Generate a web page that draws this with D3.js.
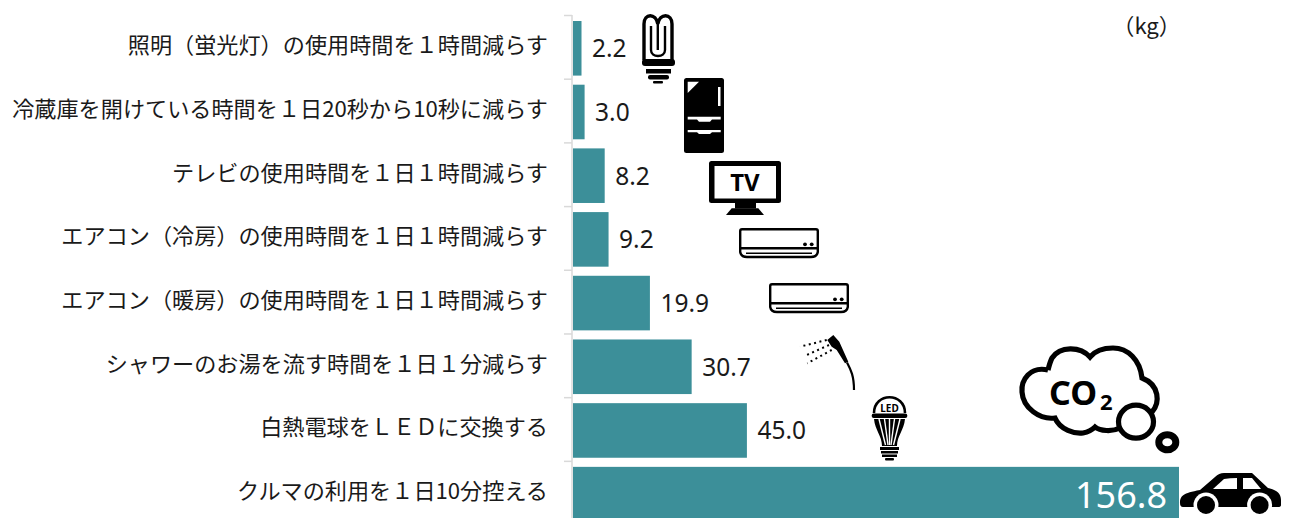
<!DOCTYPE html>
<html>
<head>
<meta charset="utf-8">
<script src="https://cdn.jsdelivr.net/npm/d3@7"></script>
<style>
html, body { margin: 0; padding: 0; background: #fff; overflow: hidden; }
svg { display: block; }
</style>
</head>
<body>
<div id="chart"></div>
<script>
"use strict";

var categories = [
	"照明（蛍光灯）の使用時間を１時間減らす",
	"冷蔵庫を開けている時間を１日20秒から10秒に減らす",
	"テレビの使用時間を１日１時間減らす",
	"エアコン（冷房）の使用時間を１日１時間減らす",
	"エアコン（暖房）の使用時間を１日１時間減らす",
	"シャワーのお湯を流す時間を１日１分減らす",
	"白熱電球をＬＥＤに交換する",
	"クルマの利用を１日10分控える"
];
var values = [2.2, 3.0, 8.2, 9.2, 19.9, 30.7, 45.0, 156.8];
var unit_label = "（kg）";

var bar_color = "#3c8f99",
	axis_color = "#d9d9d9",
	text_color = "#1a1a1a",
	jp_font = "'Noto Sans CJK JP', sans-serif",
	num_font = "'Noto Sans', sans-serif",
	icon_font = "'Noto Sans', sans-serif";

var svg = d3.select("#chart").append("svg")
	.attr("width", 1290)
	.attr("height", 518);

var x = d3.scaleLinear().domain([0, 156.8]).range([573, 1179]);
var y = d3.scaleBand().domain(categories).range([16.45, 526]).paddingInner(0.143).paddingOuter(0.0715);

//axis: line plus ticks in between the bars
svg.append("line")
	.attr("x1", 572).attr("x2", 572)
	.attr("y1", 15).attr("y2", 518)
	.attr("stroke", axis_color).attr("stroke-width", 1.5);

svg.selectAll(".tick_mark").data(categories).enter().append("line")
	.attr("class", "tick_mark")
	.attr("x1", 564).attr("x2", 572)
	.attr("y1", function(d) { return y(d) - 5.5; })
	.attr("y2", function(d) { return y(d) - 5.5; })
	.attr("stroke", axis_color).attr("stroke-width", 1.5);

svg.selectAll(".bar").data(values).enter().append("rect")
	.attr("class", "bar")
	.attr("x", x(0))
	.attr("y", function(d, i) { return y(categories[i]); })
	.attr("width", function(d) { return x(d) - x(0); })
	.attr("height", y.bandwidth())
	.attr("fill", bar_color);

svg.selectAll(".cat_label").data(categories).enter().append("text")
	.attr("class", "cat_label")
	.attr("x", 548)
	.attr("y", function(d) { return y(d) + y.bandwidth() / 2 + 5; })
	.attr("text-anchor", "end")
	.attr("font-family", jp_font)
	.attr("font-size", 22.15)
	.attr("fill", text_color)
	.text(function(d) { return d; });

svg.selectAll(".val_label").data(values).enter().append("text")
	.attr("class", "val_label")
	.attr("x", function(d) { return d > 100 ? x(d) - 12 : x(d) + 10.5; })
	.attr("y", function(d, i) { return y(categories[i]) + y.bandwidth() / 2 + (d > 100 ? 14 : 9); })
	.attr("text-anchor", function(d) { return d > 100 ? "end" : "start"; })
	.attr("font-family", num_font)
	.attr("font-size", function(d) { return d > 100 ? 36 : 24.5; })
	.attr("fill", function(d) { return d > 100 ? "#fff" : text_color; })
	.text(function(d) { return d.toFixed(1); });

svg.append("text")
	.attr("x", 1181).attr("y", 34)
	.attr("text-anchor", "end")
	.attr("font-family", jp_font)
	.attr("font-size", 22.15)
	.attr("fill", text_color)
	.text(unit_label);

//icons, all hand traced
var icons = svg.append("g").attr("class", "icons");

function bulb() {
	var g = icons.append("g");
	g.append("path")
		.attr("d", "M644,60 V24 C644,13 656,13 657.8,24 C659.5,13 672,13 672,24 V60")
		.attr("fill", "none").attr("stroke", "#000").attr("stroke-width", 3.4);
	g.append("path")
		.attr("d", "M651,26 V50 C651,58 665,58 665,50 V26 M657.8,24 V50")
		.attr("fill", "none").attr("stroke", "#000").attr("stroke-width", 2.4);
	g.append("rect").attr("x", 642).attr("y", 59).attr("width", 33).attr("height", 7).attr("rx", 3);
	g.append("rect").attr("x", 646).attr("y", 69).attr("width", 25).attr("height", 4.5);
	g.append("rect").attr("x", 648).attr("y", 75).attr("width", 21).attr("height", 4.5).attr("rx", 2);
	g.append("rect").attr("x", 653).attr("y", 81).attr("width", 10).attr("height", 2.5).attr("rx", 1);
}

function fridge() {
	var g = icons.append("g");
	g.append("rect").attr("x", 684).attr("y", 78).attr("width", 40).attr("height", 75).attr("rx", 2.5);
	g.append("path").attr("fill", "#fff").attr("d", "M687.7,81.7 H699 L687.7,93 Z");
	g.append("rect").attr("fill", "#fff").attr("x", 718).attr("y", 87).attr("width", 2.5).attr("height", 19);
	g.append("path").attr("fill", "#fff").attr("d", "M687.7,116.7 H720.7 V119.5 H712 L710,121.7 H699 L697,119.5 H687.7 Z");
	g.append("path").attr("fill", "#fff").attr("d", "M687.7,130 H720.7 V132.3 H712 L710,134 H699 L697,132.3 H687.7 Z");
}

function tv() {
	var g = icons.append("g");
	g.append("rect").attr("x", 709).attr("y", 161).attr("width", 72).attr("height", 42).attr("rx", 2.5);
	g.append("rect").attr("fill", "#fff").attr("x", 714.5).attr("y", 166).attr("width", 61.5).attr("height", 32.5);
	g.append("text").attr("x", 745).attr("y", 191)
		.attr("text-anchor", "middle")
		.attr("font-family", icon_font)
		.attr("font-weight", "bold").attr("font-size", 24)
		.text("TV");
	g.append("rect").attr("x", 735).attr("y", 203).attr("width", 21).attr("height", 5.5);
	g.append("path").attr("d", "M731.7,208.3 H758.3 L764,215 H726 Z");
}

function aircon(dx, dy) {
	var g = icons.append("g").attr("transform", "translate(" + dx + "," + dy + ")");
	g.append("path")
		.attr("d", "M1.2,20 V3 Q1.2,1.2 3,1.2 H77 Q78.8,1.2 78.8,3 V20 M1.2,20.3 H78.8 V24 Q78,29 72,29 H8 Q2,29 1.2,24 V20")
		.attr("fill", "none").attr("stroke", "#000").attr("stroke-width", 2.4);
	g.append("line").attr("x1", 7).attr("x2", 73).attr("y1", 25.2).attr("y2", 25.2)
		.attr("stroke", "#000").attr("stroke-width", 1.4);
	g.append("circle").attr("cx", 66).attr("cy", 16.3).attr("r", 1.9);
	g.append("circle").attr("cx", 72.7).attr("cy", 16.3).attr("r", 1.9);
}

function shower() {
	var g = icons.append("g");
	g.append("path").attr("d", "M827.3,340 L833.3,335 L839.3,341.7 L848.3,361.7 L845,363.3 L836.7,350 L831.7,346.7 Z");
	g.append("path").attr("d", "M847,362.5 C851,370 854,376 854,390")
		.attr("fill", "none").attr("stroke", "#000").attr("stroke-width", 2.2);
	[[826.7, 340, 800, 346.7], [829, 345, 806.7, 355], [831.7, 350, 807.3, 363.3]].forEach(function(r) {
		g.append("line")
			.attr("x1", r[0]).attr("y1", r[1]).attr("x2", r[2]).attr("y2", r[3])
			.attr("stroke", "#000").attr("stroke-width", 2).attr("stroke-dasharray", "2,3.5");
	});
}

function led() {
	var g = icons.append("g");
	g.append("path").attr("d", "M874,413 C874,392 905,392 905,413")
		.attr("fill", "none").attr("stroke", "#000").attr("stroke-width", 2.6);
	g.append("text").attr("x", 889.5).attr("y", 411.5)
		.attr("text-anchor", "middle")
		.attr("font-family", icon_font)
		.attr("font-weight", "bold").attr("font-size", 10)
		.text("LED");
	g.append("rect").attr("x", 871.7).attr("y", 413.5).attr("width", 35.6).attr("height", 4.5).attr("rx", 2);
	g.append("path").attr("d", "M874,419 H905 C904,430 897,436 897,446 H882 C882,436 875,430 874,419 Z");
	["M879,419 L885.5,445", "M884.5,419 L888,445", "M889.5,419 V445", "M894.5,419 L891,445", "M900,419 L893.5,445"].forEach(function(p) {
		g.append("path").attr("d", p).attr("stroke", "#fff").attr("stroke-width", 1.4).attr("fill", "none");
	});
	g.append("rect").attr("x", 880).attr("y", 447).attr("width", 19).attr("height", 3);
	g.append("rect").attr("x", 881).attr("y", 451).attr("width", 17).attr("height", 2.5);
	g.append("rect").attr("x", 882).attr("y", 454.5).attr("width", 15).attr("height", 2.5);
	g.append("rect").attr("x", 885).attr("y", 458).attr("width", 9).attr("height", 2.5).attr("rx", 1);
}

function cloud() {
	var g = icons.append("g");
	g.append("path")
		.attr("d", "M1048,370 C1030,366 1021,380 1022,392 C1023,408 1040,420 1055,418 C1060,430 1075,434 1083,433 C1088,432 1092,430 1095,427 C1100,431 1112,432 1120,428 M1152,412 C1160,403 1160,385 1142,378 C1140,360 1128,348 1113,348 C1103,348 1095,351 1090,357 C1080,346 1060,346 1052,358 C1050,362 1049,366 1048,370")
		.attr("fill", "none").attr("stroke", "#000").attr("stroke-width", 5.2);
	g.append("ellipse").attr("cx", 1136).attr("cy", 421.7).attr("rx", 17.5).attr("ry", 16.5)
		.attr("fill", "#fff").attr("stroke", "#000").attr("stroke-width", 5.2);
	g.append("ellipse").attr("cx", 1167.3).attr("cy", 442.3).attr("rx", 8.5).attr("ry", 7.5)
		.attr("fill", "#fff").attr("stroke", "#000").attr("stroke-width", 7);
	g.append("text").attr("x", 1049).attr("y", 405)
		.attr("font-family", icon_font)
		.attr("font-weight", "bold").attr("font-size", 34)
		.text("CO");
	g.append("text").attr("x", 1100).attr("y", 410)
		.attr("font-family", icon_font)
		.attr("font-weight", "bold").attr("font-size", 22)
		.text("2");
}

function car() {
	var g = icons.append("g");
	g.append("path").attr("d", "M1180,503 C1180,496 1183,493 1200,490 L1215,477 Q1219,473 1224,473 H1252 L1268,488 C1276,490 1281,493 1281,500 V505 Q1281,507 1278,507 H1183 Q1180,507 1180,503 Z");
	g.append("path").attr("fill", "#fff").attr("d", "M1213,489 L1224,479 Q1230,478 1237,478 V489 Z");
	g.append("path").attr("fill", "#fff").attr("d", "M1243,478 H1252 L1261,489 H1243 Z");
	[1206, 1259.6].forEach(function(cx) {
		g.append("circle").attr("cx", cx).attr("cy", 505).attr("r", 12.5).attr("fill", "#fff");
		g.append("circle").attr("cx", cx).attr("cy", 505).attr("r", 9);
	});
}

bulb();
fridge();
tv();
aircon(739, 228);
aircon(769, 283);
shower();
led();
cloud();
car();
</script>
</body>
</html>
